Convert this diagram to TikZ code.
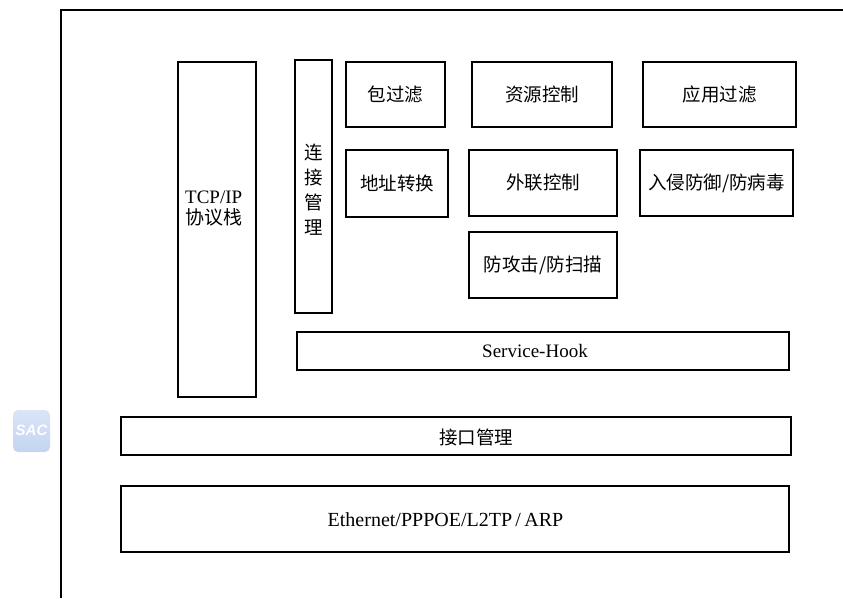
\documentclass[tikz,border=0pt]{standalone}
\usepackage{fontspec}
\setmainfont{Liberation Serif}
\setsansfont{Liberation Sans}
\newfontfamily\cjk{Noto Sans CJK SC}
\definecolor{wmblue}{RGB}{218,229,247}
\definecolor{wmblueb}{RGB}{196,212,240}
\begin{document}
\begin{tikzpicture}[x=1pt,y=-1pt,
  box/.style={draw=black,line width=1.5pt,rectangle,inner sep=0pt},
  cn/.style={font=\cjk\fontsize{18.5}{22}\selectfont},
  lat/.style={font=\fontsize{19}{22}\selectfont}]
\useasboundingbox (0,0) rectangle (843,598);

% outer frame (top and left edges)
\draw[line width=1.5pt] (843,10) -- (61,10) -- (61,598);

% faint logo at the left
\shade[top color=wmblue,bottom color=wmblueb,rounded corners=5pt]
  (13,410) rectangle (50,452);
\node[text=white,font=\sffamily\bfseries\itshape\fontsize{15}{16}\selectfont,inner sep=0pt] (logo) at (31.5,430) {SAC};

% protocol stack column
\node[box,minimum width=78pt,minimum height=335pt] (tcp) at (217,229.5) {};
\node[lat,anchor=west,align=left,inner sep=0pt] (tcptxt) at (185,209)
  {TCP/IP\\[-1pt]{\cjk 协议栈}};

% connection management column
\node[box,minimum width=37pt,minimum height=253pt] (conn) at (313.5,186.5) {};
\node[font=\cjk\fontsize{18.5}{25}\selectfont,align=center,inner sep=0pt] (conntxt) at (313.5,190)
  {连\\接\\管\\理};

% function modules
\node[box,cn,minimum width=99pt,minimum height=65pt]  (pkt) at (395.5,94.5) {包过滤};
\node[box,cn,minimum width=140pt,minimum height=65pt] (res) at (542,94.5)   {资源控制};
\node[box,cn,minimum width=153pt,minimum height=65pt] (app) at (719.5,94.5) {应用过滤};
\node[box,cn,minimum width=102pt,minimum height=67pt] (nat) at (397,183.5)  {地址转换};
\node[box,cn,minimum width=148pt,minimum height=66pt] (out) at (543,183)    {外联控制};
\node[box,cn,minimum width=153pt,minimum height=66pt] (ids) at (716.5,183)  {入侵防御/防病毒};
\node[box,cn,minimum width=148pt,minimum height=66pt] (atk) at (543,265)    {防攻击/防扫描};

% hook layer
\node[box,minimum width=492pt,minimum height=38pt] (hook) at (543,351) {};
\node[lat,inner sep=0pt] (hooktxt) at (535,351) {Service-Hook};

% interface management layer
\node[box,minimum width=670pt,minimum height=38pt] (ifm) at (456,436) {};
\node[cn,inner sep=0pt] (ifmtxt) at (476,437) {接口管理};

% link layer
\node[box,minimum width=668pt,minimum height=66pt] (eth) at (455,519) {};
\node[font=\fontsize{20}{22}\selectfont,inner sep=0pt] (ethtxt) at (445.5,520)
  {Ethernet/PPPOE/L2TP\,/\,ARP};
\end{tikzpicture}
\end{document}
